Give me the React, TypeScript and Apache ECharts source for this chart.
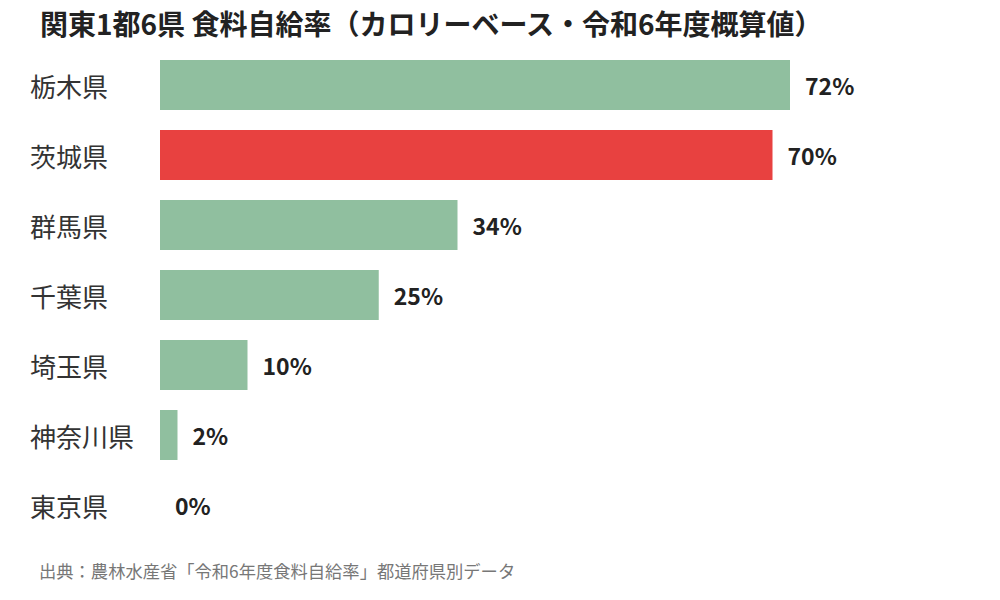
import React, { useEffect, useRef } from "react";
import * as echarts from "echarts";

const prefectures = ["栃木県", "茨城県", "群馬県", "千葉県", "埼玉県", "神奈川県", "東京県"];
const selfSufficiency = [72, 70, 34, 25, 10, 2, 0];
const highlighted = "茨城県";
const titleText = "関東1都6県 食料自給率（カロリーベース・令和6年度概算値）";
const sourceText = "出典：農林水産省「令和6年度食料自給率」都道府県別データ";

const FONT = "'Noto Sans CJK JP', 'Noto Sans', sans-serif";

export default function App() {
  const ref = useRef<HTMLDivElement>(null);
  useEffect(() => {
    if (!ref.current) return;
    const chart = echarts.init(ref.current, undefined, { renderer: "svg" });
    chart.setOption({
      animation: false,
      backgroundColor: "#ffffff",
      textStyle: { fontFamily: FONT },
      title: {
        text: titleText,
        left: 35,
        top: 4,
        textStyle: { fontFamily: FONT, fontSize: 28, fontWeight: "bold", color: "#222222" },
      },
      graphic: [
        {
          type: "text",
          left: 39,
          top: 562,
          style: { text: sourceText, fontFamily: FONT, fontSize: 17.3, fill: "#777777" },
        },
      ],
      grid: { left: 160, top: 50, width: 700, height: 490, containLabel: false },
      xAxis: {
        type: "value",
        min: 0,
        max: 80,
        show: false,
      },
      yAxis: {
        type: "category",
        inverse: true,
        data: prefectures,
        axisLine: { show: false },
        axisTick: { show: false },
        splitLine: { show: false },
        axisLabel: {
          align: "left",
          margin: 130,
          fontFamily: FONT,
          fontSize: 26,
          color: "#333333",
        },
      },
      series: [
        {
          type: "bar",
          barWidth: 50,
          data: prefectures.map((p, i) => ({
            value: selfSufficiency[i],
            itemStyle: { color: p === highlighted ? "#e84140" : "#90bf9f" },
          })),
          label: {
            show: true,
            position: "right",
            distance: 15,
            formatter: "{c}%",
            fontFamily: FONT,
            fontSize: 23,
            fontWeight: "bold",
            color: "#222222",
          },
        },
      ],
    });
    return () => chart.dispose();
  }, []);
  return (
    <div
      ref={ref}
      style={{ position: "fixed", left: 0, top: 0, width: 1000, height: 600 }}
    />
  );
}
